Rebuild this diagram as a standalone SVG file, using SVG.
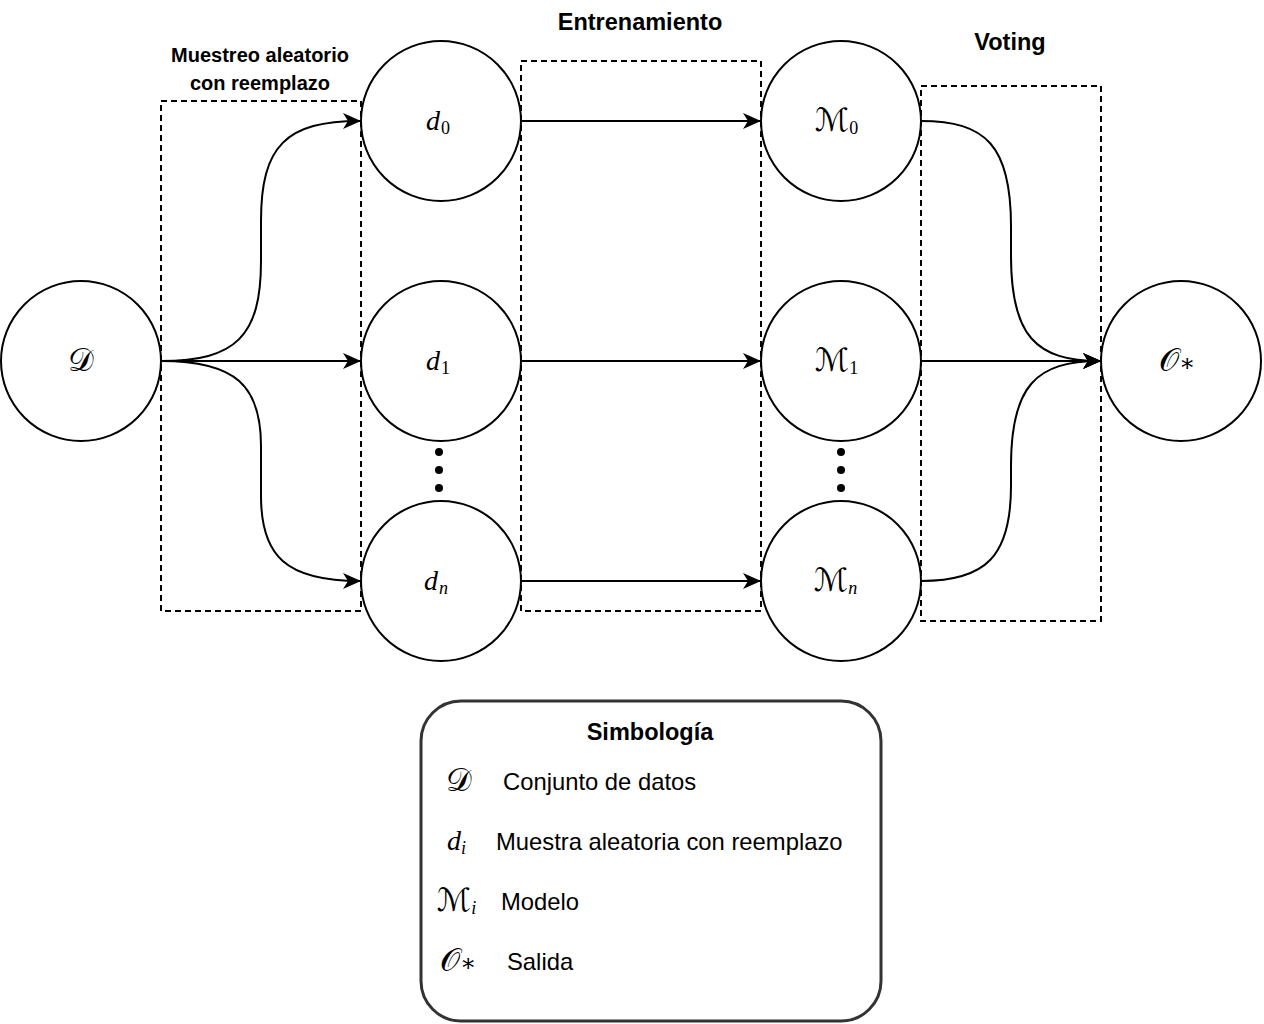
<svg xmlns="http://www.w3.org/2000/svg" width="1264" height="1024" viewBox="0 0 1264 1024">
<defs>
<style>
.node{fill:#fff;stroke:#000;stroke-width:2}
.box{fill:none;stroke:#000;stroke-width:2;stroke-dasharray:6 4}
.edge{fill:none;stroke:#000;stroke-width:2}
.math{font-family:"DejaVu Serif","DejaVu Sans","Liberation Serif",serif;font-size:32px;fill:#000}
.star{font-family:"DejaVu Serif","DejaVu Sans",serif;font-size:24px;fill:#000}
.it{font-family:"Liberation Serif",serif;font-style:italic;font-size:28px;fill:#000}
.sub{font-family:"Liberation Serif",serif;font-size:18px;fill:#000}
.subi{font-family:"Liberation Serif",serif;font-style:italic;font-size:18px;fill:#000}
.title{font-family:"Liberation Sans",Arial,sans-serif;font-weight:bold;font-size:23.5px;fill:#000;text-anchor:middle}
.small{font-family:"Liberation Sans",Arial,sans-serif;font-weight:bold;font-size:20px;fill:#000;text-anchor:middle}
.leg{font-family:"Liberation Sans",Arial,sans-serif;font-size:23.8px;fill:#000}
.dot{fill:#000}
</style>
<marker id="arr" viewBox="0 0 18 16" refX="17" refY="8" markerWidth="18" markerHeight="16" markerUnits="userSpaceOnUse" orient="auto">
<path d="M0,0 L18,8 L0,16 L5,8 Z" fill="#000"/>
</marker>
</defs>
<rect width="1264" height="1024" fill="#fff"/>

<g id="groups">
<rect class="box" x="161" y="101" width="200" height="510"/>
<rect class="box" x="521" y="61" width="240" height="550"/>
<rect class="box" x="921" y="86" width="180" height="535"/>
<text class="small" x="260" y="62">Muestreo aleatorio</text>
<text class="small" x="260" y="90">con reemplazo</text>
<text class="title" x="640" y="30">Entrenamiento</text>
<text class="title" x="1010" y="50">Voting</text>
</g>

<g id="connectors">
<path class="edge" marker-end="url(#arr)" d="M161,361 C236,361 261,336 261,261 L261,221 C261,146 286,121 360,121"/>
<path class="edge" marker-end="url(#arr)" d="M161,361 L360,361"/>
<path class="edge" marker-end="url(#arr)" d="M161,361 C236,361 261,386 261,446 L261,496 C261,556 286,581 360,581"/>
<path class="edge" marker-end="url(#arr)" d="M521,121 L760,121"/>
<path class="edge" marker-end="url(#arr)" d="M521,361 L760,361"/>
<path class="edge" marker-end="url(#arr)" d="M521,581 L760,581"/>
<path class="edge" marker-end="url(#arr)" d="M921,121 C986,121 1011,146 1011,226 L1011,256 C1011,336 1036,361 1100,361"/>
<path class="edge" marker-end="url(#arr)" d="M921,361 L1100,361"/>
<path class="edge" marker-end="url(#arr)" d="M921,581 C986,581 1011,556 1011,486 L1011,466 C1011,386 1036,361 1100,361"/>
</g>

<g id="node-D">
<circle class="node" cx="81" cy="361" r="80"/>
<text class="math" x="81" y="371" text-anchor="middle">𝒟</text>
</g>
<g id="node-d0">
<circle class="node" cx="441" cy="121" r="80"/>
<text x="426" y="130"><tspan class="it">d</tspan><tspan class="sub" dx="1" dy="4">0</tspan></text>
</g>
<g id="node-d1">
<circle class="node" cx="441" cy="361" r="80"/>
<text x="426" y="370"><tspan class="it">d</tspan><tspan class="sub" dx="1" dy="4">1</tspan></text>
</g>
<g id="node-dn">
<circle class="node" cx="441" cy="581" r="80"/>
<text x="424" y="590"><tspan class="it">d</tspan><tspan class="subi" dx="1" dy="4">n</tspan></text>
</g>
<g id="node-M0">
<circle class="node" cx="841" cy="121" r="80"/>
<text x="815" y="131"><tspan class="math">ℳ</tspan><tspan class="sub" dx="0" dy="3">0</tspan></text>
</g>
<g id="node-M1">
<circle class="node" cx="841" cy="361" r="80"/>
<text x="815" y="371"><tspan class="math">ℳ</tspan><tspan class="sub" dx="0" dy="3">1</tspan></text>
</g>
<g id="node-Mn">
<circle class="node" cx="841" cy="581" r="80"/>
<text x="814" y="591"><tspan class="math">ℳ</tspan><tspan class="subi" dx="0" dy="3">n</tspan></text>
</g>
<g id="node-O">
<circle class="node" cx="1181" cy="361" r="80"/>
<text x="1159" y="371"><tspan class="math">𝒪</tspan><tspan class="star" dx="0">∗</tspan></text>
</g>

<g id="dots">
<circle class="dot" cx="439" cy="452" r="4"/>
<circle class="dot" cx="439" cy="470" r="4"/>
<circle class="dot" cx="439" cy="488" r="4"/>
<circle class="dot" cx="841" cy="452" r="4"/>
<circle class="dot" cx="841" cy="470" r="4"/>
<circle class="dot" cx="841" cy="488" r="4"/>
</g>

<g id="legend">
<rect x="421" y="701" width="460" height="320" rx="40" ry="40" fill="#fff" stroke="#333" stroke-width="3"/>
<text class="title" x="650" y="740">Simbología</text>
<text class="math" x="446" y="791">𝒟</text>
<text class="leg" x="503" y="790">Conjunto de datos</text>
<text x="447" y="850"><tspan class="it">d</tspan><tspan class="subi" dx="0" dy="4">i</tspan></text>
<text class="leg" x="496" y="850">Muestra aleatoria con reemplazo</text>
<text x="437" y="911"><tspan class="math">ℳ</tspan><tspan class="subi" dx="0" dy="3">i</tspan></text>
<text class="leg" x="501" y="910">Modelo</text>
<text x="440" y="971"><tspan class="math">𝒪</tspan><tspan class="star" dx="0">∗</tspan></text>
<text class="leg" x="507" y="970">Salida</text>
</g>
</svg>
